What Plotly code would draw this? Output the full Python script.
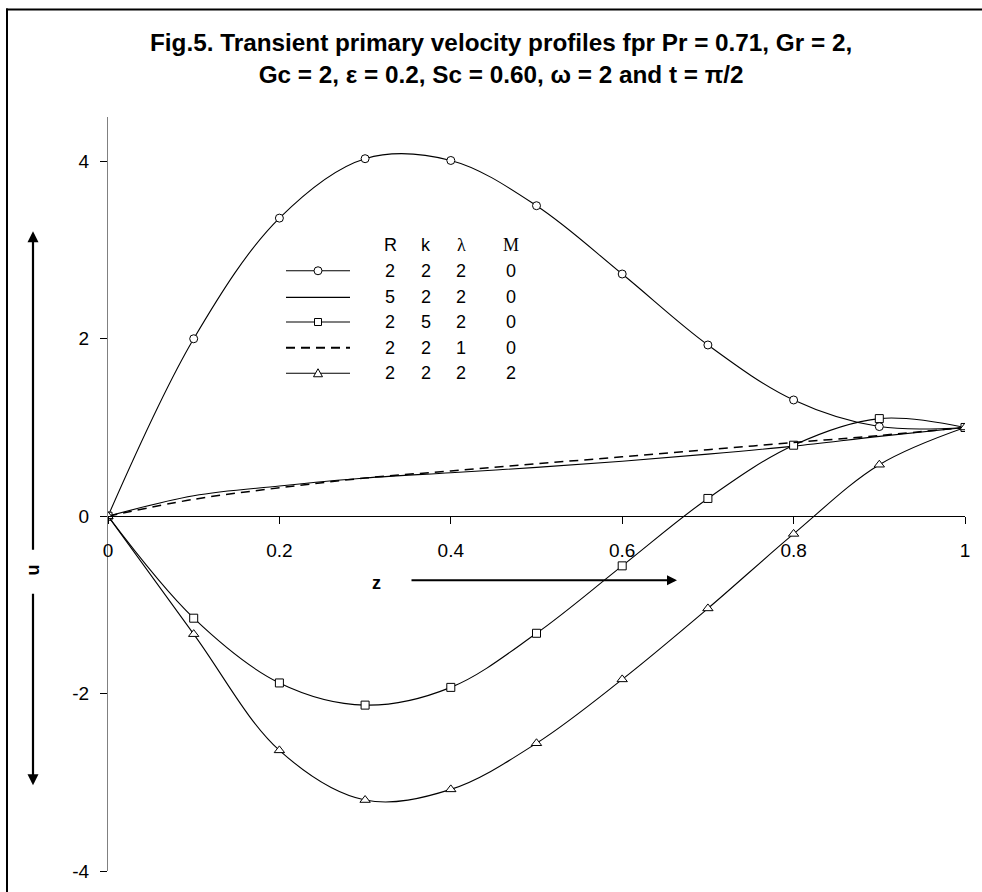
import plotly.graph_objects as go

# ---------------- data ----------------
z = [0.0, 0.1, 0.2, 0.3, 0.4, 0.5, 0.6, 0.7, 0.8, 0.9, 1.0]
u_base = [0.0, 2.00, 3.36, 4.03, 4.01, 3.50, 2.73, 1.93, 1.31, 1.01, 1.00]      # R=2 k=2 lam=2 M=0
u_R5 = [0.0, 0.23, 0.34, 0.43, 0.49, 0.55, 0.62, 0.70, 0.79, 0.90, 1.00]       # R=5
u_k5 = [0.0, -1.15, -1.88, -2.13, -1.93, -1.32, -0.56, 0.20, 0.80, 1.10, 1.00]  # k=5
u_lam1 = [0.0, 0.19, 0.32, 0.43, 0.51, 0.59, 0.67, 0.75, 0.83, 0.91, 1.00]     # lambda=1
u_M2 = [0.0, -1.33, -2.64, -3.20, -3.08, -2.56, -1.84, -1.04, -0.20, 0.58, 1.00]  # M=2

R_vals = ["2", "5", "2", "2", "2"]
k_vals = ["2", "2", "5", "2", "2"]
lam_vals = ["2", "2", "2", "1", "2"]
M_vals = ["0", "0", "0", "0", "2"]

x_ticks = [0, 0.2, 0.4, 0.6, 0.8, 1.0]
x_ticktext = ["0", "0.2", "0.4", "0.6", "0.8", "1"]
y_ticks = [-4, -2, 0, 2, 4]
y_ticktext = ["-4", "-2", "0", "2", "4"]
y_range = [-4, 4.5]

title_text = ("<b>Fig.5. Transient primary velocity profiles fpr Pr = 0.71, Gr = 2,<br>"
              "Gc = 2, ε = 0.2, Sc = 0.60, ω = 2 and t = π/2</b>")

# ---------------- layout geometry ----------------
W, H = 982, 892
ML, MR, MT, MB = 108, 17, 117, 10
PW, PH = W - ML - MR, H - MT - MB


def px(xp):
    return (xp - ML) / PW


def py(yp):
    return (H - MB - yp) / PH


FONT = "Arial, Liberation Sans, sans-serif"
SERIF = "Times New Roman, Liberation Serif, serif"
DASH = "9px,6px"

series = [
    (u_base, "solid", "circle"),
    (u_R5, "solid", None),
    (u_k5, "solid", "square"),
    (u_lam1, DASH, None),
    (u_M2, "solid", "triangle-up"),
]

fig = go.Figure()
for vals, dash, sym in series:
    fig.add_trace(go.Scatter(
        x=z, y=vals,
        mode="lines+markers" if sym else "lines",
        line=dict(color="black", width=1.1 if dash == "solid" else 1.5,
                  dash=dash, shape="spline", smoothing=1.0),
        marker=dict(symbol=sym or "circle", size=8 if sym != "triangle-up" else 9,
                    color="white", line=dict(color="black", width=1)),
        showlegend=False,
        hoverinfo="skip",
    ))

x_pos = (0 - y_range[0]) / (y_range[1] - y_range[0])

fig.update_layout(
    width=W, height=H,
    margin=dict(l=ML, r=MR, t=MT, b=MB),
    paper_bgcolor="white", plot_bgcolor="white",
    showlegend=False,
    xaxis=dict(range=[0, 1], anchor="free", position=x_pos,
               showline=True, linecolor="black", linewidth=1,
               ticks="outside", ticklen=7, tickcolor="black", tickwidth=1,
               tickvals=x_ticks, ticktext=x_ticktext, ticklabelstandoff=10,
               ticklabeloverflow="allow",
               tickfont=dict(family=FONT, size=19, color="black"),
               showgrid=False, zeroline=False),
    xaxis2=dict(range=[0, 1], matches="x", overlaying="x", anchor="free", position=x_pos,
                showline=False, ticks="inside", ticklen=7, tickcolor="black", tickwidth=1,
                tickvals=x_ticks, showticklabels=False, showgrid=False, zeroline=False),
    yaxis=dict(range=y_range, showline=True, linecolor="#808080", linewidth=1,
               ticks="outside", ticklen=7, tickcolor="black", tickwidth=1,
               tickvals=y_ticks, ticktext=y_ticktext, ticklabelstandoff=7,
               ticklabeloverflow="allow",
               tickfont=dict(family=FONT, size=19, color="black"),
               showgrid=False, zeroline=False),
    yaxis2=dict(range=y_range, matches="y", overlaying="y", anchor="free", position=0,
                showline=False, ticks="inside", ticklen=7, tickcolor="black", tickwidth=1,
                tickvals=y_ticks, showticklabels=False, showgrid=False, zeroline=False),
)

shapes = []
annotations = []

# title
annotations.append(dict(text=title_text, x=px(501), y=py(58), xref="paper", yref="paper",
                        showarrow=False, xanchor="center", yanchor="middle", align="center",
                        font=dict(family=FONT, size=24.3, color="black")))

# outer frame: only top and left edges are inside the picture
shapes.append(dict(type="line", xref="paper", yref="paper",
                   x0=px(6), y0=py(8), x1=px(1200), y1=py(8),
                   line=dict(color="black", width=2), layer="below"))
shapes.append(dict(type="line", xref="paper", yref="paper",
                   x0=px(7), y0=py(7), x1=px(7), y1=py(1100),
                   line=dict(color="black", width=2), layer="below"))

# custom legend
row_y = [273, 300, 325, 351, 377]
col_x = [390, 426, 461, 511]
head_y = 247
for txt, cx, fam in zip(["R", "k", "λ", "M"], col_x, [FONT, FONT, SERIF, SERIF]):
    annotations.append(dict(text=txt, x=px(cx), y=py(head_y), xref="paper", yref="paper",
                            showarrow=False, xanchor="center", yanchor="middle",
                            font=dict(family=fam, size=18, color="black")))

for i, (vals, dash, sym) in enumerate(series):
    yy = py(row_y[i])
    shapes.append(dict(type="line", xref="paper", yref="paper", x0=px(286), x1=px(350),
                       y0=yy, y1=yy, line=dict(color="black",
                                                width=1.1 if dash == "solid" else 2,
                                                dash=dash)))
    common = dict(xref="paper", yref="paper", xsizemode="pixel", ysizemode="pixel",
                  xanchor=px(318), yanchor=yy, fillcolor="white",
                  line=dict(color="black", width=1))
    if sym == "circle":
        shapes.append(dict(type="circle", x0=-4, x1=4, y0=-4, y1=4, **common))
    elif sym == "square":
        shapes.append(dict(type="rect", x0=-3.5, x1=3.5, y0=-3.5, y1=3.5, **common))
    elif sym == "triangle-up":
        shapes.append(dict(type="path", path="M -4.5,-3.5 L 4.5,-3.5 L 0,4.5 Z", **common))
    for txt, cx in zip([R_vals[i], k_vals[i], lam_vals[i], M_vals[i]], col_x):
        annotations.append(dict(text=txt, x=px(cx), y=yy, xref="paper", yref="paper",
                                showarrow=False, xanchor="center", yanchor="middle",
                                font=dict(family=FONT, size=18, color="black")))

# y axis label with arrows
annotations.append(dict(text="<b>u</b>", x=px(33), y=py(577), xref="paper", yref="paper",
                        showarrow=False, textangle=-90, xanchor="center", yanchor="middle",
                        font=dict(family=FONT, size=18, color="black")))
annotations.append(dict(text="", x=px(33), y=py(233), xref="paper", yref="paper",
                        showarrow=True, ax=0, ay=553 - 233, arrowhead=2, arrowsize=1,
                        arrowwidth=2.2, arrowcolor="black"))
annotations.append(dict(text="", x=px(33), y=py(795), xref="paper", yref="paper",
                        showarrow=True, ax=0, ay=602 - 795, arrowhead=2, arrowsize=1,
                        arrowwidth=2.2, arrowcolor="black"))

# x axis label with arrow
annotations.append(dict(text="<b>z</b>", x=px(376), y=py(590), xref="paper", yref="paper",
                        showarrow=False, xanchor="center", yanchor="middle",
                        font=dict(family=FONT, size=18, color="black")))
annotations.append(dict(text="", x=px(677), y=py(587), xref="paper", yref="paper",
                        showarrow=True, ax=410 - 677, ay=0, arrowhead=2, arrowsize=1,
                        arrowwidth=2, arrowcolor="black"))

fig.update_layout(shapes=shapes, annotations=annotations)

fig.write_html("out.html", config={"displayModeBar": False},
               post_script="document.body.style.margin='0';document.body.style.overflow='hidden';")
